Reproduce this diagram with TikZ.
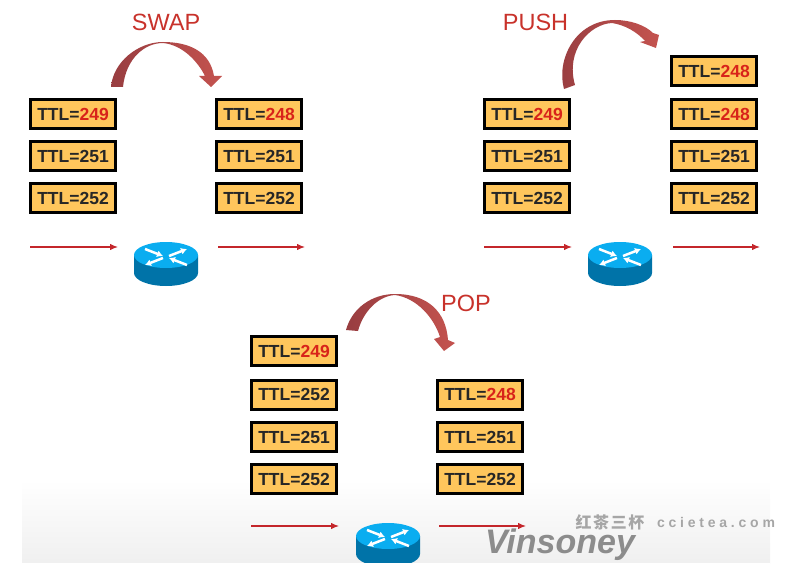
\documentclass[tikz,border=0pt]{standalone}
\usepackage{fontspec}
\setmainfont{Liberation Sans}
\newfontfamily\markfont[LetterSpace=27]{Liberation Sans}
\newfontfamily\cjkfont[LetterSpace=10]{Noto Sans CJK SC}
\usepackage{tikz}
\usetikzlibrary{arrows.meta}
\definecolor{boxfill}{HTML}{FFC65C}
\definecolor{labelred}{HTML}{C8322B}
\definecolor{numred}{HTML}{D8231A}
\definecolor{flowred}{HTML}{C4262B}
\definecolor{benddark}{HTML}{983D40}
\definecolor{bendlight}{HTML}{C4534F}
\definecolor{routertop}{HTML}{0AADF0}
\definecolor{routerbody}{HTML}{0073A8}
\newcommand{\redttl}[1]{\textcolor{numred}{#1}}
\tikzset{
	ttlbox/.style={draw=black,line width=3pt,fill=boxfill,text=black!85,minimum width=85pt,minimum height=29pt,inner sep=0pt,font=\fontsize{17.5}{20}\selectfont\bfseries},
	oplabel/.style={text=labelred,inner sep=0pt,font=\fontsize{23.5}{26}\selectfont},
	flow/.style={draw=flowred,line width=1.2pt,->},
	bendarrow/.style={left color=benddark,right color=bendlight},
	routericon/.pic={
		\fill[routerbody] (-32,0) -- (-32,18) arc (180:360:32pt and 13pt) -- (32,0) -- cycle;
		\fill[routertop] (0,0) ellipse (32pt and 13pt);
		% the four white arrows on top
		\draw[white,line width=2.5pt,-{Latex[length=6pt,width=7pt]}] (-21,-6) -- (-3,1);
		\draw[white,line width=2.5pt,-{Latex[length=6pt,width=7pt]}] (21,10) -- (3,3);
		\draw[white,line width=2.5pt,-{Latex[length=6pt,width=7pt]}] (3,1) -- (21,-6);
		\draw[white,line width=2.5pt,-{Latex[length=6pt,width=7pt]}] (-3,3) -- (-21,10);
	}
}
\begin{document}
\begin{tikzpicture}[>={Latex[length=8pt,width=6.5pt]},x=1pt,y=-1pt]
	\useasboundingbox (0,0) rectangle (803,572);
	\shade[top color=white,bottom color=black!6] (22,480) rectangle (770,563);
	%
	\shade[bendarrow] (111,87) .. controls (113,62) and (138,42) .. (163,42) .. controls (190,42) and (210,52) .. (214,76) -- (222,76) -- (211,87) -- (199,76) -- (205,76) .. controls (198,62) and (183,45) .. (163,43) .. controls (145,43) and (126,58) .. (123,87) -- cycle;
	\node[oplabel] (swaplabel) at (166,22) {SWAP};
	\node[ttlbox] (swapin1) at (73,114) {TTL=\redttl{249}};
	\node[ttlbox] (swapin2) at (73,156) {TTL=251};
	\node[ttlbox] (swapin3) at (73,198) {TTL=252};
	\node[ttlbox] (swapout1) at (259,114) {TTL=\redttl{248}};
	\node[ttlbox] (swapout2) at (259,156) {TTL=251};
	\node[ttlbox] (swapout3) at (259,198) {TTL=252};
	\pic at (166,255) {routericon};
	\coordinate (swapa) at (30,247);
	\coordinate (swapb) at (118,247);
	\coordinate (swapc) at (218,247);
	\coordinate (swapd) at (305,247);
	\draw[flow] (swapa) -- (swapb);
	\draw[flow] (swapc) -- (swapd);
	%
	\shade[bendarrow] (564,89) .. controls (556,60) and (575,20) .. (615,20) .. controls (630,20) and (645,25) .. (653,33) -- (659,35) -- (656,48) -- (640,42) -- (645,41) .. controls (637,32) and (625,25) .. (612,23) .. controls (590,24) and (565,50) .. (575,85) -- cycle;
	\node[oplabel] (pushlabel) at (535.5,22) {PUSH};
	\node[ttlbox] (pushin1) at (527,114) {TTL=\redttl{249}};
	\node[ttlbox] (pushin2) at (527,156) {TTL=251};
	\node[ttlbox] (pushin3) at (527,198) {TTL=252};
	\node[ttlbox] (pushout0) at (714,71) {TTL=\redttl{248}};
	\node[ttlbox] (pushout1) at (714,114) {TTL=\redttl{248}};
	\node[ttlbox] (pushout2) at (714,156) {TTL=251};
	\node[ttlbox] (pushout3) at (714,198) {TTL=252};
	\pic at (620,255) {routericon};
	\coordinate (pusha) at (484,247);
	\coordinate (pushb) at (572,247);
	\coordinate (pushc) at (673,247);
	\coordinate (pushd) at (760,247);
	\draw[flow] (pusha) -- (pushb);
	\draw[flow] (pushc) -- (pushd);
	%
	\shade[bendarrow] (346,330) .. controls (352,308) and (372,294) .. (395,294) .. controls (428,294) and (446,312) .. (448,340) -- (455,343) -- (444,351) -- (434,339) -- (440,337) .. controls (434,318) and (417,298) .. (395,295) .. controls (378,296) and (363,312) .. (358,331) -- cycle;
	\node[oplabel] (poplabel) at (466,303) {POP};
	\node[ttlbox] (popin0) at (294,351) {TTL=\redttl{249}};
	\node[ttlbox] (popin1) at (294,394.5) {TTL=252};
	\node[ttlbox] (popin2) at (294,437) {TTL=251};
	\node[ttlbox] (popin3) at (294,479) {TTL=252};
	\node[ttlbox] (popout1) at (480,394.5) {TTL=\redttl{248}};
	\node[ttlbox] (popout2) at (480,437) {TTL=251};
	\node[ttlbox] (popout3) at (480,479) {TTL=252};
	\pic at (388,536) {routericon};
	\coordinate (popa) at (251,526);
	\coordinate (popb) at (339,526);
	\coordinate (popc) at (439,526);
	\coordinate (popd) at (526,526);
	\draw[flow] (popa) -- (popb);
	\draw[flow] (popc) -- (popd);
	% bottom edge cuts the lower router
	\fill[white] (22,563) rectangle (770,572);
	%
	\node[text=black!45,inner sep=0pt,font=\fontsize{34}{36}\selectfont\bfseries\itshape] (brandmark) at (560,545) {Vinsoney};
	\node[text=black!35,inner sep=0pt,font=\fontsize{16}{18}\selectfont\cjkfont\bfseries] (cjkmark) at (610,522) {红茶三杯};
	\node[text=black!35,inner sep=0pt,font=\fontsize{14}{16}\selectfont\markfont\bfseries] (sitemark) at (716,522) {ccietea.com};
\end{tikzpicture}
\end{document}
